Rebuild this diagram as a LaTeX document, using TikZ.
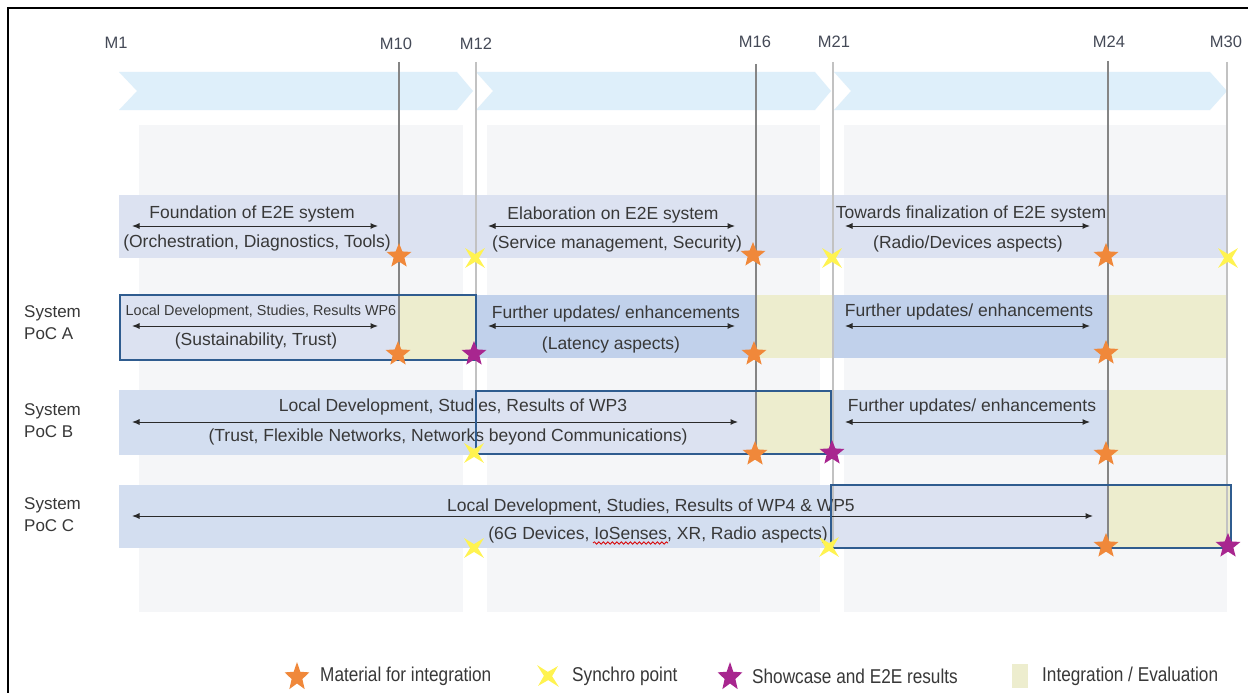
\documentclass[tikz,border=0pt]{standalone}
\usepackage{fontspec}
\setmainfont{Liberation Sans}
\newfontfamily\narrowfont[FakeStretch=0.86]{Liberation Sans}
\usetikzlibrary{shapes.geometric,arrows.meta,decorations.pathmorphing}
\definecolor{tx}{HTML}{383838}
\definecolor{mst}{HTML}{454A57}
\definecolor{arr}{HTML}{2A2A2A}
\definecolor{chev}{HTML}{DEEFFA}
\definecolor{colg}{HTML}{F5F6F8}
\definecolor{bandL}{HTML}{DCE2F1}
\definecolor{bandB}{HTML}{D3DEF0}
\definecolor{bandA}{HTML}{C1D1EB}
\definecolor{beige}{HTML}{EDEDCE}
\definecolor{bx}{HTML}{2F5C8F}
\definecolor{vl1}{HTML}{858585}
\definecolor{vl2}{HTML}{C2C2C2}
\definecolor{orgc}{HTML}{F0883A}
\definecolor{purc}{HTML}{A8268F}
\definecolor{yelc}{HTML}{FFF350}
\begin{document}
\begin{tikzpicture}[x=1pt,y=-1pt,
  txt/.style={font=\fontsize{17.5}{21}\selectfont, text=tx, inner sep=0pt, yshift=-1.5pt},
  smalltxt/.style={font=\fontsize{14.4}{17}\selectfont, text=tx, inner sep=0pt, yshift=-1pt},
  mslbl/.style={font=\fontsize{16.5}{19}\selectfont, text=mst, inner sep=0pt},
  rowlbl/.style={font=\fontsize{17}{22}\selectfont, text=tx, align=left, anchor=west, inner sep=0pt},
  leg/.style={font=\narrowfont\fontsize{20}{22}\selectfont, text=tx, anchor=west, inner sep=0pt, yshift=-1pt},
  span/.style={{Latex[length=7.5pt,width=6pt]}-{Latex[length=7.5pt,width=6pt]}, draw=arr, line width=1pt},
  vdark/.style={draw=vl1, line width=1.5pt},
  vlight/.style={draw=vl2, line width=1.5pt},
  boxline/.style={draw=bx, line width=1.4pt},
  mat/.style={star, star points=5, star point ratio=2.3, fill=orgc, minimum size=26pt, inner sep=0pt, draw=none},
  showc/.style={mat, fill=purc},
  sync/.style={star, star points=4, star point ratio=3.6, rotate=45, fill=yelc, minimum size=28pt, inner sep=0pt, draw=none},
]
\useasboundingbox (0,0) rectangle (1248,693);
\fill[white] (0,0) rectangle (1248,693);
% frame
\draw[line width=2pt, black] (1248,8) -- (8,8) -- (8,693);

% chevrons
\fill[chev] (119,72) -- (457,72) -- (473,91) -- (457,110) -- (119,110) -- (137,91) -- cycle;
\fill[chev] (476,72) -- (815,72) -- (831,91) -- (815,110) -- (476,110) -- (493,91) -- cycle;
\fill[chev] (834,72) -- (1210,72) -- (1227,91) -- (1210,110) -- (834,110) -- (851,91) -- cycle;

% grey columns
\fill[colg] (139,125) rectangle (463,612);
\fill[colg] (487,125) rectangle (820,612);
\fill[colg] (844,125) rectangle (1227,612);

% row 1
\fill[bandL] (119,195) rectangle (1228,258);
% row A
\fill[bandL] (120,295) rectangle (400,359);
\fill[beige] (400,295) rectangle (476,359);
\fill[bandA] (476,295) rectangle (757,358);
\fill[beige] (757,295) rectangle (833,358);
\fill[bandA] (833,295) rectangle (1107,358);
\fill[beige] (1107,295) rectangle (1228,358);
% row B
\fill[bandB] (119,390) rectangle (476,455);
\fill[bandL] (476,391) rectangle (757,454);
\fill[beige] (757,391) rectangle (831,454);
\fill[bandB] (831,390) rectangle (1107,455);
\fill[beige] (1107,390) rectangle (1228,455);
% row C
\fill[bandB] (119,485) rectangle (831,548);
\fill[bandL] (831,485) rectangle (1107,548);
\fill[beige] (1107,485) rectangle (1231,548);

% milestone labels
\node[mslbl] (m1) at (116,43) {M1};
\node[mslbl] (m10) at (396,44) {M10};
\node[mslbl] (m12) at (476,44) {M12};
\node[mslbl] (m16) at (755,42) {M16};
\node[mslbl] (m21) at (834,42) {M21};
\node[mslbl] (m24) at (1109,42) {M24};
\node[mslbl] (m30) at (1226,42) {M30};

% vertical milestone lines
\coordinate (v10a) at (399,62);  \coordinate (v10b) at (399,360);
\coordinate (v12a) at (476,62);  \coordinate (v12b) at (476,455);
\coordinate (v16a) at (756,64);  \coordinate (v16b) at (756,455);
\coordinate (v21a) at (833,62);  \coordinate (v21b) at (833,548);
\coordinate (v24a) at (1108,61); \coordinate (v24b) at (1108,548);
\coordinate (v30a) at (1227,62); \coordinate (v30b) at (1227,548);
\draw[vdark] (v10a) -- (v10b);
\draw[vlight] (v12a) -- (v12b);
\draw[vdark] (v16a) -- (v16b);
\draw[vlight] (v21a) -- (v21b);
\draw[vdark] (v24a) -- (v24b);
\draw[vlight] (v30a) -- (v30b);

% row labels
\node[rowlbl] (pocA) at (24,323) {System\\PoC A};
\node[rowlbl] (pocB) at (24,421) {System\\PoC B};
\node[rowlbl] (pocC) at (24,515) {System\\PoC C};

% row 1 texts
\node[txt] (t11) at (252,212) {Foundation of E2E system};
\node[txt] (t12) at (257,241) {(Orchestration, Diagnostics, Tools)};
\coordinate (a11) at (132,226); \coordinate (a12) at (378,226);
\draw[span] (a11) -- (a12);
\node[txt] (t21) at (613,213) {Elaboration on E2E system};
\node[txt] (t22) at (617,242) {(Service management, Security)};
\coordinate (a21) at (488,226); \coordinate (a22) at (735,226);
\draw[span] (a21) -- (a22);
\node[txt] (t31) at (971,212) {Towards finalization of E2E system};
\node[txt] (t32) at (968,242) {(Radio/Devices aspects)};
\coordinate (a31) at (845,226); \coordinate (a32) at (1090,226);
\draw[span] (a31) -- (a32);

% row A texts
\node[smalltxt] (tA1) at (261,311) {Local Development, Studies, Results WP6};
\node[txt] (tA2) at (256,339) {(Sustainability, Trust)};
\coordinate (aA1) at (132,326); \coordinate (aA2) at (378,326);
\draw[span] (aA1) -- (aA2);
\node[txt] (tA3) at (616,312) {Further updates/ enhancements};
\node[txt] (tA4) at (611,343) {(Latency aspects)};
\coordinate (aA3) at (488,326); \coordinate (aA4) at (735,326);
\draw[span] (aA3) -- (aA4);
\node[txt] (tA5) at (969,310) {Further updates/ enhancements};
\coordinate (aA5) at (845,326); \coordinate (aA6) at (1090,326);
\draw[span] (aA5) -- (aA6);

% row B texts
\node[txt] (tB1) at (453,405) {Local Development, Studies, Results of WP3};
\node[txt] (tB2) at (448,435) {(Trust, Flexible Networks, Networks beyond Communications)};
\coordinate (aB1) at (132,422); \coordinate (aB2) at (738,422);
\draw[span] (aB1) -- (aB2);
\node[txt] (tB3) at (972,405) {Further updates/ enhancements};
\coordinate (aB3) at (845,422); \coordinate (aB4) at (1090,422);
\draw[span] (aB3) -- (aB4);

% row C texts
\node[txt] (tC1) at (651,505) {Local Development, Studies, Results of WP4 \& WP5};
\node[txt] (tC2) at (658,533) {(6G Devices, IoSenses, XR, Radio aspects)};
\coordinate (aC1) at (132,516); \coordinate (aC2) at (1093,516);
\draw[span] (aC1) -- (aC2);
\coordinate (sq1) at (593,543); \coordinate (sq2) at (668,543);
\draw[red!85!black, line width=0.8pt, decorate, decoration={snake, amplitude=1.2pt, segment length=4.5pt}] (sq1) -- (sq2);

% bordered boxes
\draw[boxline] (120,295) rectangle (476,360);
\draw[boxline] (476,391) rectangle (831,454);
\draw[boxline] (831,485) rectangle (1231,548);

% markers row 1
\node[mat] (s11) at (399,256) {};
\node[sync] (y11) at (475,258) {};
\node[mat] (s12) at (753,255) {};
\node[sync] (y12) at (832,258) {};
\node[mat] (s13) at (1106,256) {};
\node[sync] (y13) at (1228,258) {};
% row A
\node[mat] (sA1) at (398,354) {};
\node[showc] (pA1) at (474,354) {};
\node[mat] (sA2) at (754,354) {};
\node[mat] (sA3) at (1106,353) {};
% row B
\node[sync] (yB1) at (474,453) {};
\node[mat] (sB1) at (755,454) {};
\node[showc] (pB1) at (832,453) {};
\node[mat] (sB2) at (1106,454) {};
% row C
\node[sync] (yC1) at (474,548) {};
\node[sync] (yC2) at (829,547) {};
\node[mat] (sC1) at (1106,546) {};
\node[showc] (pC1) at (1228,546) {};

% legend
\node[mat, yscale=1.15] (lg1) at (297,677) {};
\node[leg] (lt1) at (320,675) {Material for integration};
\node[sync, yscale=1.1] (lg2) at (548,676) {};
\node[leg] (lt2) at (572,675) {Synchro point};
\node[showc, yscale=1.15] (lg3) at (730,677) {};
\node[leg] (lt3) at (752,675) {Showcase and E2E results};
\fill[beige] (1012,664) rectangle (1028,688);
\node[leg] (lt4) at (1042,675) {Integration / Evaluation};
\end{tikzpicture}
\end{document}
